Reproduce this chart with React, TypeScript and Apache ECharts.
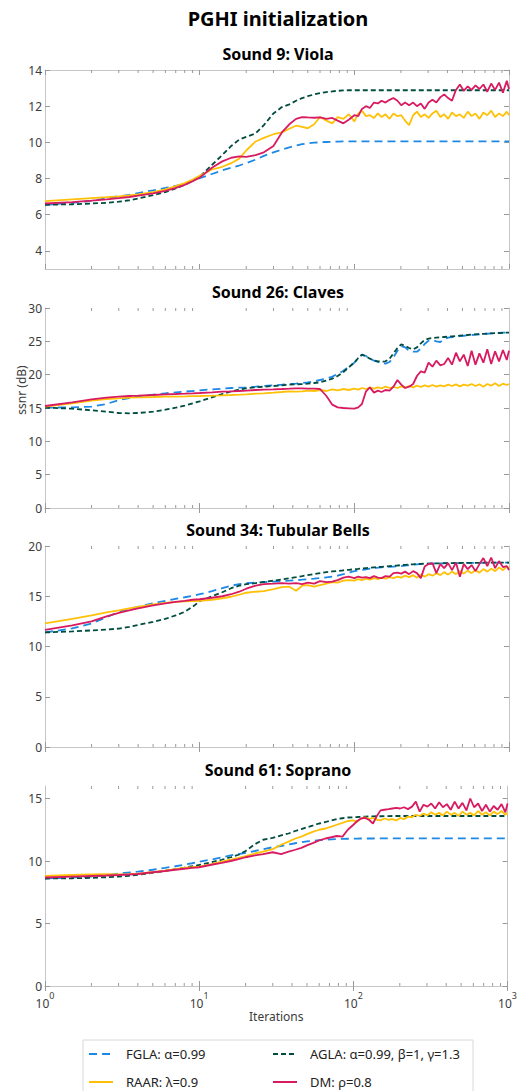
import React, { useEffect, useRef } from "react";
import * as echarts from "echarts";

// Iteration grid shared by all series
const ITER = [
  1, 1.5, 2, 2.5, 3, 3.5, 4, 5, 6, 7,
  8, 9, 10, 12, 14, 16, 18, 20, 23, 26,
  30, 34, 38, 42, 46, 50, 55, 60, 66, 72,
  78, 85, 92,
  100, 106, 112, 119, 126, 134, 142, 150, 159, 169,
  179, 190, 201, 213, 226, 240, 254, 269, 285, 302,
  320, 339, 360, 381, 404, 428, 454, 481, 510, 541,
  573, 607, 644, 683, 724, 767, 813, 862, 914, 968, 1000,
];

const MINOR_TICKS = [2, 3, 4, 5, 6, 7, 8, 9, 20, 30, 40, 50, 60, 70, 80, 90, 200, 300, 400, 500, 600, 700, 800, 900];

const SERIES_NAMES = ["FGLA: α=0.99", "AGLA: α=0.99, β=1, γ=1.3", "RAAR: λ=0.9", "DM: ρ=0.8"];
const PANEL_TITLES = ["Sound 9: Viola", "Sound 26: Claves", "Sound 34: Tubular Bells", "Sound 61: Soprano"];
const Y_MIN = [3, 0, 0, 0];
const Y_MAX = [14, 30, 20, 16];
const Y_TICKS = [
  [4, 6, 8, 10, 12, 14],
  [0, 5, 10, 15, 20, 25, 30],
  [0, 5, 10, 15, 20],
  [0, 5, 10, 15],
];

// ---- Sound 9: Viola ----
const VIOLA_FGLA = [
  6.55, 6.65, 6.78, 6.9, 7.02, 7.1, 7.2, 7.35, 7.48, 7.6,
  7.7, 7.85, 8.02, 8.25, 8.45, 8.6, 8.72, 8.85, 9.05, 9.25,
  9.45, 9.6, 9.72, 9.82, 9.9, 9.95, 9.98, 10.0, 10.02, 10.03,
  10.04, 10.05, 10.05,
  10.05, 10.05, 10.05, 10.05, 10.05, 10.05, 10.06, 10.06, 10.06, 10.06,
  10.06, 10.06, 10.06, 10.06, 10.06, 10.06, 10.06, 10.06, 10.06, 10.06,
  10.06, 10.06, 10.06, 10.06, 10.06, 10.06, 10.06, 10.06, 10.06, 10.06,
  10.06, 10.06, 10.06, 10.06, 10.06, 10.06, 10.06, 10.06, 10.06, 10.06, 10.06,
];
const VIOLA_AGLA = [
  6.55, 6.58, 6.62, 6.66, 6.72, 6.8, 6.9, 7.08, 7.25, 7.45,
  7.65, 7.88, 8.1, 8.75, 9.3, 9.8, 10.15, 10.3, 10.5, 10.95,
  11.6, 11.95, 12.1, 12.3, 12.45, 12.55, 12.65, 12.72, 12.78, 12.82,
  12.85, 12.87, 12.88,
  12.88, 12.88, 12.88, 12.88, 12.88, 12.88, 12.88, 12.88, 12.88, 12.88,
  12.88, 12.88, 12.88, 12.88, 12.88, 12.88, 12.88, 12.88, 12.88, 12.88,
  12.88, 12.88, 12.88, 12.88, 12.88, 12.88, 12.88, 12.88, 12.88, 12.88,
  12.88, 12.88, 12.88, 12.88, 12.88, 12.88, 12.88, 12.88, 12.88, 12.88, 12.88,
];
const VIOLA_RAAR = [
  6.75, 6.85, 6.92, 6.97, 7.02, 7.07, 7.12, 7.25, 7.4, 7.58,
  7.75, 7.95, 8.15, 8.5, 8.65, 8.85, 9.1, 9.55, 10.05, 10.25,
  10.45, 10.55, 10.75, 10.92, 10.85, 10.78, 11.0, 11.4, 11.2, 11.05,
  11.4, 11.3, 11.55,
  11.15, 11.6, 11.75, 11.45, 11.5, 11.35, 11.6, 11.4, 11.55, 11.3,
  11.6, 11.45, 11.5, 11.2, 10.95, 11.5, 11.7, 11.4, 11.55, 11.35,
  11.6, 11.75, 11.4, 11.55, 11.3, 11.65, 11.45, 11.55, 11.35, 11.7,
  11.45, 11.6, 11.3, 11.65, 11.5, 11.75, 11.4, 11.6, 11.45, 11.7, 11.5,
];
const VIOLA_DM = [
  6.62, 6.7, 6.78, 6.85, 6.92, 6.98, 7.05, 7.18, 7.32, 7.48,
  7.65, 7.85, 8.05, 8.6, 8.95, 9.15, 9.22, 9.2, 9.3, 9.45,
  9.8, 10.55, 11.0, 11.3, 11.4, 11.38, 11.36, 11.38, 11.3, 11.35,
  11.2, 11.05, 11.25,
  11.5, 11.45, 11.85, 12.0, 11.9, 12.2, 12.15, 12.3, 12.2, 12.35,
  12.45, 12.3, 12.05, 12.2, 12.05, 12.2, 12.0, 12.15, 11.85, 12.2,
  12.35, 12.2, 12.5, 12.65, 12.45, 12.3, 12.9, 13.2, 12.85, 13.1,
  12.9, 13.15, 12.95, 13.2, 12.8, 13.25, 12.9, 13.3, 12.75, 13.4, 12.95,
];

// ---- Sound 26: Claves ----
const CLAVES_FGLA = [
  15.05, 15.1, 15.2, 15.6, 16.2, 16.5, 16.75, 17.0, 17.2, 17.35,
  17.45, 17.55, 17.65, 17.8, 17.9, 18.0, 18.05, 18.1, 18.2, 18.3,
  18.4, 18.5, 18.6, 18.65, 18.75, 18.85, 19.0, 19.2, 19.4, 19.7,
  20.1, 20.6, 21.2,
  21.8, 22.5, 23.0, 22.8, 22.4, 22.1, 21.9, 21.75, 21.65, 21.9,
  22.6, 23.6, 24.3, 24.1, 23.6, 23.45, 23.45, 23.9, 24.6, 25.1,
  25.2, 25.0, 24.9, 25.3, 25.55, 25.65, 25.72, 25.78, 25.84, 25.9,
  25.95, 26.0, 26.05, 26.1, 26.14, 26.18, 26.22, 26.26, 26.3, 26.33, 26.35,
];
const CLAVES_AGLA = [
  15.05, 14.9, 14.65, 14.45, 14.25, 14.2, 14.25, 14.45, 14.75, 15.05,
  15.35, 15.7, 16.0, 16.6, 17.1, 17.5, 17.75, 17.95, 18.1, 18.2,
  18.3, 18.4, 18.5, 18.55, 18.6, 18.65, 18.75, 18.85, 19.1, 19.4,
  19.8, 20.4, 21.1,
  21.8, 22.5, 23.0, 22.75, 22.4, 22.15, 22.0, 21.95, 22.0, 22.4,
  23.2, 24.0, 24.55, 24.3, 24.0, 23.8, 24.1, 24.7, 25.2, 25.4,
  25.5, 25.55, 25.6, 25.65, 25.7, 25.75, 25.8, 25.85, 25.9, 25.95,
  26.0, 26.05, 26.1, 26.12, 26.15, 26.2, 26.22, 26.25, 26.28, 26.3, 26.32,
];
const CLAVES_RAAR = [
  15.2, 15.7, 16.1, 16.35, 16.45, 16.55, 16.6, 16.65, 16.7, 16.72,
  16.75, 16.78, 16.8, 16.85, 16.9, 16.95, 17.0, 17.05, 17.15, 17.2,
  17.3, 17.4, 17.5, 17.45, 17.5, 17.6, 17.55, 17.7, 17.55, 17.8,
  17.65, 17.85, 17.7,
  17.9, 17.75, 18.0, 17.85, 18.05, 17.9, 18.1, 17.95, 18.2, 18.0,
  18.15, 18.0, 18.25, 18.05, 18.3, 18.1, 18.35, 18.15, 18.4, 18.2,
  18.45, 18.2, 18.4, 18.25, 18.5, 18.3, 18.55, 18.25, 18.5, 18.35,
  18.6, 18.3, 18.55, 18.2, 18.6, 18.35, 18.7, 18.3, 18.65, 18.45, 18.6,
];
const CLAVES_DM = [
  15.3, 15.85, 16.3, 16.55, 16.7, 16.8, 16.85, 16.95, 17.05, 17.1,
  17.15, 17.2, 17.25, 17.35, 17.45, 17.5, 17.55, 17.6, 17.7, 17.75,
  17.8, 17.85, 17.9, 17.95, 17.95, 17.9, 17.9, 17.85, 16.8, 15.5,
  15.1, 15.0, 14.95,
  14.9, 15.1, 15.6, 17.5, 18.1, 17.3, 17.6, 17.4, 17.7, 17.6,
  18.2, 19.2, 18.5, 18.0, 18.2, 18.6, 19.8, 20.5, 20.3, 21.8,
  21.2, 22.1, 21.4, 21.6, 22.5, 21.5, 23.3, 22.0, 23.0, 21.3,
  23.6, 21.5, 23.2, 21.8, 23.8, 21.6, 23.5, 22.0, 23.7, 22.2, 23.6,
];

// ---- Sound 34: Tubular Bells ----
const BELLS_FGLA = [
  11.4, 11.8, 12.3, 12.9, 13.45, 13.75, 13.95, 14.3, 14.55, 14.75,
  14.9, 15.05, 15.2, 15.5, 15.8, 16.05, 16.2, 16.3, 16.35, 16.4,
  16.45, 16.5, 16.55, 16.6, 16.65, 16.7, 16.75, 16.8, 16.88, 16.95,
  17.05, 17.2, 17.35,
  17.5, 17.55, 17.62, 17.68, 17.74, 17.8, 17.84, 17.88, 17.9, 17.93,
  17.95, 17.97, 18.0, 18.05, 18.1, 18.15, 18.18, 18.2, 18.22, 18.24,
  18.25, 18.26, 18.27, 18.28, 18.29, 18.3, 18.3, 18.31, 18.31, 18.32,
  18.32, 18.33, 18.33, 18.33, 18.34, 18.34, 18.34, 18.35, 18.35, 18.35, 18.35,
];
const BELLS_AGLA = [
  11.4, 11.5, 11.6, 11.68, 11.78, 11.95, 12.15, 12.45, 12.75, 13.1,
  13.45, 13.95, 14.5, 15.0, 15.4, 15.8, 16.05, 16.2, 16.3, 16.42,
  16.55, 16.68, 16.8, 16.9, 17.0, 17.1, 17.2, 17.3, 17.4, 17.47,
  17.52, 17.58, 17.63,
  17.68, 17.72, 17.76, 17.8, 17.83, 17.87, 17.9, 17.93, 17.96, 18.0,
  18.03, 18.06, 18.1, 18.12, 18.15, 18.18, 18.2, 18.22, 18.24, 18.25,
  18.26, 18.27, 18.28, 18.29, 18.3, 18.3, 18.31, 18.31, 18.32, 18.32,
  18.33, 18.33, 18.33, 18.34, 18.34, 18.34, 18.35, 18.35, 18.35, 18.35, 18.35,
];
const BELLS_RAAR = [
  12.3, 12.75, 13.1, 13.4, 13.6, 13.8, 13.95, 14.2, 14.35, 14.45,
  14.5, 14.52, 14.55, 14.65, 14.8, 14.95, 15.15, 15.35, 15.45, 15.5,
  15.7, 15.9, 15.95, 15.55, 16.05, 16.1, 15.95, 16.1, 16.25, 16.4,
  16.35, 16.55, 16.6,
  16.55, 16.7, 16.6, 16.75, 16.65, 16.8, 16.7, 16.85, 16.75, 16.9,
  16.8, 16.95, 16.85, 17.05, 16.9, 17.1, 16.85, 17.15, 16.95, 17.2,
  17.05, 17.3, 17.1, 17.4, 17.15, 17.45, 17.2, 17.5, 17.25, 17.55,
  17.3, 17.6, 17.35, 17.7, 17.45, 17.75, 17.5, 17.85, 17.6, 17.95, 17.8,
];
const BELLS_DM = [
  11.65, 12.1, 12.5, 13.0, 13.35, 13.6, 13.8, 14.1, 14.3, 14.45,
  14.55, 14.65, 14.7, 14.85, 15.0, 15.2, 15.45, 15.75, 16.05, 16.2,
  16.25, 16.3, 16.25, 16.3, 16.2, 16.35, 16.25, 16.5, 16.4, 16.45,
  16.6, 16.85, 16.95,
  16.8, 16.95, 16.85, 16.9, 16.8, 17.0, 16.85, 16.8, 17.0, 16.95,
  17.3, 17.35, 17.25, 17.45, 17.2, 17.5, 17.3, 16.8, 17.95, 18.2,
  18.3, 17.3, 18.2, 17.8, 18.3, 17.6, 18.35, 16.95, 18.2, 17.7,
  18.1, 17.5, 18.2, 18.8, 18.0, 18.85, 17.8, 18.5, 17.9, 18.0, 17.6,
];

// ---- Sound 61: Soprano ----
const SOPRANO_FGLA = [
  8.6, 8.68, 8.75, 8.85, 9.0, 9.08, 9.15, 9.3, 9.45, 9.58,
  9.7, 9.82, 9.95, 10.12, 10.28, 10.45, 10.55, 10.65, 10.8, 10.95,
  11.1, 11.2, 11.32, 11.42, 11.5, 11.57, 11.62, 11.67, 11.7, 11.73,
  11.75, 11.77, 11.78,
  11.79, 11.79, 11.8, 11.8, 11.8, 11.8, 11.81, 11.81, 11.81, 11.81,
  11.81, 11.81, 11.81, 11.81, 11.81, 11.81, 11.81, 11.81, 11.81, 11.81,
  11.81, 11.81, 11.81, 11.81, 11.81, 11.81, 11.81, 11.81, 11.81, 11.81,
  11.81, 11.81, 11.81, 11.81, 11.81, 11.81, 11.81, 11.81, 11.81, 11.81, 11.81,
];
const SOPRANO_AGLA = [
  8.6, 8.62, 8.65, 8.7, 8.75, 8.82, 8.9, 9.05, 9.2, 9.35,
  9.47, 9.58, 9.68, 9.9, 10.1, 10.3, 10.5, 10.8, 11.35, 11.7,
  11.85, 12.05, 12.2, 12.4, 12.55, 12.7, 12.85, 13.0, 13.12, 13.25,
  13.35, 13.42, 13.48,
  13.5, 13.52, 13.54, 13.55, 13.56, 13.57, 13.58, 13.58, 13.59, 13.59,
  13.6, 13.6, 13.6, 13.6, 13.6, 13.6, 13.6, 13.6, 13.6, 13.6,
  13.6, 13.6, 13.6, 13.6, 13.6, 13.6, 13.6, 13.6, 13.6, 13.6,
  13.6, 13.6, 13.6, 13.6, 13.6, 13.6, 13.6, 13.6, 13.6, 13.6, 13.6,
];
const SOPRANO_RAAR = [
  8.8, 8.88, 8.93, 8.94, 8.93, 8.95, 8.98, 9.1, 9.22, 9.35,
  9.45, 9.5, 9.55, 9.75, 9.95, 10.1, 10.25, 10.4, 10.6, 10.75,
  10.95, 11.3, 11.55, 11.8, 11.95, 12.15, 12.35, 12.5, 12.6, 12.75,
  12.9, 13.05, 13.2,
  13.25, 13.15, 13.4, 13.5, 13.35, 13.45, 13.3, 13.25, 13.4, 13.3,
  13.35, 13.25, 13.45, 13.35, 13.55, 13.5, 13.7, 13.6, 13.8, 13.65,
  13.9, 13.7, 13.85, 13.65, 13.95, 13.7, 13.85, 13.6, 13.95, 13.7,
  13.85, 13.65, 14.0, 13.7, 13.9, 13.65, 13.95, 13.75, 14.0, 13.7, 13.85,
];
const SOPRANO_DM = [
  8.68, 8.75, 8.8, 8.84, 8.88, 8.92, 8.96, 9.1, 9.2, 9.3,
  9.38, 9.45, 9.5, 9.7, 9.85, 10.0, 10.15, 10.3, 10.45, 10.55,
  10.7, 10.55, 10.75, 10.9, 11.05, 11.25, 11.45, 11.65, 11.8, 11.9,
  12.0, 11.95, 12.5,
  12.9, 13.2, 13.4, 13.45, 13.3, 13.0, 13.6, 14.05, 14.1, 14.15,
  14.2, 14.25, 14.2, 14.3, 14.15, 14.35, 14.75, 13.95, 14.5, 14.35,
  14.6, 14.2, 14.7, 14.3, 14.55, 14.1, 14.75, 14.2, 14.65, 14.05,
  15.0, 14.3, 14.6, 14.0, 14.5, 13.95, 14.4, 14.1, 14.55, 13.9, 14.6,
];

const PANEL_DATA = [
  [VIOLA_FGLA, VIOLA_AGLA, VIOLA_RAAR, VIOLA_DM],
  [CLAVES_FGLA, CLAVES_AGLA, CLAVES_RAAR, CLAVES_DM],
  [BELLS_FGLA, BELLS_AGLA, BELLS_RAAR, BELLS_DM],
  [SOPRANO_FGLA, SOPRANO_AGLA, SOPRANO_RAAR, SOPRANO_DM],
];

const FONT = "Noto Sans";
const COLORS = ["#1E88E5", "#004D40", "#FFC107", "#D81B60"];
const DASHES: (number[] | "solid")[] = [[8, 5], [5, 3], "solid", "solid"];
const GRID_TOP = [70, 308, 546, 786];
const GRID_H = [199, 200, 201, 200];
const AXIS_LINE = "#c6c6c6";
const TICK_COLOR = "#9a9a9a";
const LABEL_COLOR = "#3c3c3c";

function buildOption() {
  const grid: any[] = [];
  const xAxis: any[] = [];
  const yAxis: any[] = [];
  const series: any[] = [];
  const title: any[] = [
    {
      text: "PGHI initialization",
      left: 278,
      top: 8,
      textAlign: "center",
      padding: 0,
      textStyle: { fontFamily: FONT, fontWeight: "bold", fontSize: 20, color: "#000" },
    },
  ];

  for (let i = 0; i < 4; i++) {
    grid.push({ left: 45, right: 11, top: GRID_TOP[i], height: GRID_H[i], containLabel: false });
    title.push({
      text: PANEL_TITLES[i],
      left: 278,
      top: GRID_TOP[i] - 24,
      textAlign: "center",
      padding: 0,
      textStyle: { fontFamily: FONT, fontWeight: "bold", fontSize: 16, color: "#000" },
    });
    const last = i === 3;
    xAxis.push({
      type: "log",
      logBase: 10,
      gridIndex: i,
      min: 1,
      max: 1000,
      position: "bottom",
      axisLine: { show: true, lineStyle: { color: AXIS_LINE, width: 1 } },
      axisTick: { show: true, inside: true, length: 5, lineStyle: { color: TICK_COLOR } },
      splitLine: { show: false },
      minorTick: { show: false },
      axisLabel: last
        ? {
            show: true,
            margin: 5,
            formatter: (v: number) => `{b|10}{s|${Math.round(Math.log10(v))}}`,
            rich: {
              b: { fontFamily: FONT, fontSize: 12, color: LABEL_COLOR, lineHeight: 18, verticalAlign: "bottom" },
              s: { fontFamily: FONT, fontSize: 9, color: LABEL_COLOR, lineHeight: 10, verticalAlign: "top" },
            },
          }
        : { show: false },
      name: last ? "Iterations" : "",
      nameLocation: "middle",
      nameGap: 24,
      nameTextStyle: { fontFamily: FONT, fontSize: 12, color: LABEL_COLOR },
    });
    xAxis.push({
      type: "log",
      logBase: 10,
      gridIndex: i,
      min: 1,
      max: 1000,
      position: "top",
      axisLine: { show: true, lineStyle: { color: AXIS_LINE, width: 1 } },
      axisTick: { show: true, inside: true, length: 5, lineStyle: { color: TICK_COLOR } },
      axisLabel: { show: false },
      splitLine: { show: false },
    });
    yAxis.push({
      type: "value",
      gridIndex: i,
      min: Y_MIN[i],
      max: Y_MAX[i],
      position: "left",
      axisLine: { show: true, lineStyle: { color: AXIS_LINE, width: 1 } },
      axisTick: { show: true, inside: true, length: 5, lineStyle: { color: TICK_COLOR }, customValues: Y_TICKS[i] },
      axisLabel: {
        show: true,
        customValues: Y_TICKS[i],
        fontFamily: FONT,
        fontSize: 12,
        color: LABEL_COLOR,
        margin: 3,
      },
      splitLine: { show: false },
    });
    yAxis.push({
      type: "value",
      gridIndex: i,
      min: Y_MIN[i],
      max: Y_MAX[i],
      position: "right",
      axisLine: { show: true, lineStyle: { color: AXIS_LINE, width: 1 } },
      axisTick: { show: true, inside: true, length: 5, lineStyle: { color: TICK_COLOR }, customValues: Y_TICKS[i] },
      axisLabel: { show: false },
      splitLine: { show: false },
    });

    // minor ticks on the log x axis (bottom and top edges)
    series.push({
      type: "custom",
      xAxisIndex: 2 * i,
      yAxisIndex: 2 * i,
      silent: true,
      z: 1,
      data: MINOR_TICKS.map((v) => [v, Y_MIN[i]]),
      renderItem: (params: any, api: any) => {
        const x = api.coord([api.value(0), api.value(1)])[0];
        const cs = params.coordSys;
        const yb = cs.y + cs.height;
        const yt = cs.y;
        return {
          type: "group",
          children: [
            { type: "line", shape: { x1: x, y1: yb, x2: x, y2: yb - 3 }, style: { stroke: TICK_COLOR, lineWidth: 1 } },
            { type: "line", shape: { x1: x, y1: yt, x2: x, y2: yt + 3 }, style: { stroke: TICK_COLOR, lineWidth: 1 } },
          ],
        };
      },
    });

    for (let s = 0; s < 4; s++) {
      const vals = PANEL_DATA[i][s];
      series.push({
        name: SERIES_NAMES[s],
        type: "line",
        xAxisIndex: 2 * i,
        yAxisIndex: 2 * i,
        showSymbol: false,
        symbol: "none",
        smooth: false,
        z: 2 + s,
        color: COLORS[s],
        lineStyle: { color: COLORS[s], width: 1.8, type: DASHES[s] },
        data: ITER.map((x, k) => [x, vals[k]]),
      });
    }
  }

  const legendCommon = {
    orient: "vertical",
    top: 1047,
    padding: 0,
    itemWidth: 24,
    itemHeight: 14,
    itemGap: 14,
    selectedMode: false,
    itemStyle: { opacity: 0, borderWidth: 0 },
    textStyle: { fontFamily: FONT, fontSize: 13, lineHeight: 14, color: "#222", padding: [0, 0, 0, 8] },
  };

  return {
    animation: false,
    backgroundColor: "#fff",
    title,
    grid,
    xAxis,
    yAxis,
    series,
    legend: [
      { ...legendCommon, left: 88, data: [SERIES_NAMES[0], SERIES_NAMES[2]] },
      { ...legendCommon, left: 272, data: [SERIES_NAMES[1], SERIES_NAMES[3]] },
    ],
    graphic: [
      {
        type: "rect",
        shape: { x: 83, y: 1040, width: 390, height: 70 },
        style: { fill: "none", stroke: "#d8d8d8", lineWidth: 1 },
        silent: true,
      },
      {
        type: "text",
        x: 21,
        y: 390,
        rotation: Math.PI / 2,
        style: {
          text: "ssnr (dB)",
          fontFamily: FONT,
          fontSize: 12,
          fill: LABEL_COLOR,
          textAlign: "center",
          textVerticalAlign: "middle",
        },
      },
    ],
  };
}

export default function App() {
  const ref = useRef<HTMLDivElement>(null);
  useEffect(() => {
    document.body.style.margin = "0";
    if (!ref.current) return;
    const chart = echarts.init(ref.current, undefined, { renderer: "svg" });
    chart.setOption(buildOption() as any);
    return () => chart.dispose();
  }, []);
  return <div ref={ref} style={{ width: 520, height: 1091 }} />;
}
